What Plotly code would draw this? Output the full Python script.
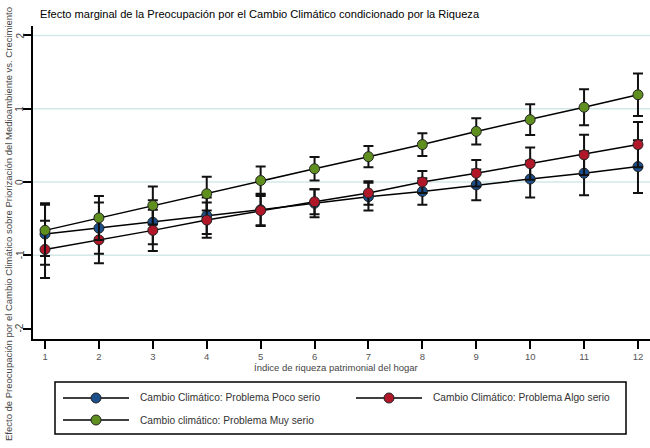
import plotly.graph_objects as go

x_vals = list(range(1, 13))
x_ticks = list(range(1, 13))
y_ticks = [-2, -1, 0, 1, 2]
grid_vals = [-1, 0, 1, 2]

poco = [-0.71, -0.63, -0.55, -0.46, -0.38, -0.29, -0.20, -0.13, -0.04, 0.04, 0.12, 0.21]
poco_err = [0.42, 0.35, 0.30, 0.25, 0.22, 0.19, 0.19, 0.18, 0.21, 0.25, 0.30, 0.36]
algo = [-0.92, -0.79, -0.66, -0.52, -0.39, -0.27, -0.15, 0.00, 0.12, 0.25, 0.37, 0.51]
algo_err = [0.39, 0.32, 0.28, 0.24, 0.20, 0.17, 0.16, 0.15, 0.18, 0.22, 0.275, 0.31]
muy = [-0.66, -0.49, -0.32, -0.16, 0.02, 0.18, 0.345, 0.51, 0.69, 0.85, 1.02, 1.19]
muy_err = [0.35, 0.30, 0.26, 0.23, 0.19, 0.16, 0.145, 0.155, 0.18, 0.21, 0.245, 0.29]

names = ["Cambio Climático: Problema Poco serio",
         "Cambio Climático: Problema Algo serio",
         "Cambio climático: Problema Muy serio"]
colors = ["#1a4f8c", "#b0182a", "#5e8f1f"]
series = [poco, algo, muy]
errors = [poco_err, algo_err, muy_err]

W, H = 650, 448
L, R, T, B = 33, 650, 26, 339
pw, ph = R - L, B - T

def px(xp):
    return (xp - L) / pw

def py(yp):
    return (B - yp) / ph

fig = go.Figure()
for name, col, ys, es in zip(names, colors, series, errors):
    fig.add_trace(go.Scatter(
        x=x_vals, y=ys, mode="lines+markers", name=name, showlegend=False,
        line=dict(color="black", width=1.5),
        marker=dict(size=10, color=col, line=dict(color="#222222", width=1)),
        error_y=dict(type="data", array=es, visible=True, color="#111111",
                     thickness=2, width=5),
    ))

shapes = []
for g in grid_vals:
    shapes.append(dict(type="line", xref="paper", yref="y", x0=0, x1=1, y0=g, y1=g,
                       line=dict(color="#d3e7e7", width=1.5), layer="below"))

# legend box
shapes.append(dict(type="rect", xref="paper", yref="paper",
                   x0=px(55), x1=px(626), y0=py(382), y1=py(434),
                   line=dict(color="black", width=1.5), fillcolor="white"))
annotations = []
leg_items = [(63, 398), (356, 398), (63, 420)]
for (lx, ly), name, col in zip(leg_items, names, colors):
    shapes.append(dict(type="line", xref="paper", yref="paper",
                       x0=px(lx), x1=px(lx + 66), y0=py(ly), y1=py(ly),
                       line=dict(color="black", width=1.5)))
    cx = lx + 33
    shapes.append(dict(type="circle", xref="paper", yref="paper",
                       x0=px(cx - 5), x1=px(cx + 5), y0=py(ly + 5), y1=py(ly - 5),
                       fillcolor=col, line=dict(color="#222222", width=1)))
    annotations.append(dict(text=name, xref="paper", yref="paper",
                            x=px(lx + 75), y=py(ly), xanchor="left", yanchor="middle",
                            showarrow=False, font=dict(size=10.2, color="#333333")))

# rotated y tick labels
for v in y_ticks:
    annotations.append(dict(text=str(v), xref="paper", yref="y", x=px(20), y=v,
                            xanchor="center", yanchor="middle", textangle=-90,
                            showarrow=False, font=dict(size=10, color="#444444")))

annotations.append(dict(text="Índice de riqueza patrimonial del hogar",
                        xref="paper", yref="paper", x=px(336), y=py(367),
                        xanchor="center", yanchor="middle", showarrow=False,
                        font=dict(size=9.5, color="#444444")))
annotations.append(dict(text="Efecto de Preocupación por el Cambio Climático sobre Priorización del Medioambiente vs. Crecimiento",
                        xref="paper", yref="paper", x=px(8), y=py(224),
                        xanchor="center", yanchor="middle", textangle=-90, showarrow=False,
                        font=dict(size=9.5, color="#444444")))

fig.update_layout(
    width=W, height=H,
    margin=dict(l=L, r=W - R, t=T, b=H - B),
    paper_bgcolor="white", plot_bgcolor="white",
    font=dict(family="Liberation Sans, Arial, sans-serif"),
    title=dict(text="Efecto marginal de la Preocupación por el Cambio Climático condicionado por la Riqueza",
               x=40 / W, xanchor="left", y=1 - 14 / H, yanchor="middle",
               font=dict(size=11.1, color="black")),
    xaxis=dict(range=[0.777, 12.223], tickvals=x_ticks, showgrid=False, zeroline=False,
               showline=True, linecolor="black", linewidth=2,
               ticks="outside", ticklen=8, tickwidth=2, tickcolor="black",
               tickfont=dict(size=9.5, color="#555555")),
    yaxis=dict(range=[-2.142, 2.128], tickvals=y_ticks, showgrid=False, zeroline=False,
               showline=True, linecolor="black", linewidth=2,
               ticks="outside", ticklen=8, tickwidth=2, tickcolor="black",
               showticklabels=False),
    shapes=shapes, annotations=annotations,
)

fig.write_html("out.html", config={"displayModeBar": False},
               post_script="document.body.style.margin='0';document.body.style.overflow='hidden';")
